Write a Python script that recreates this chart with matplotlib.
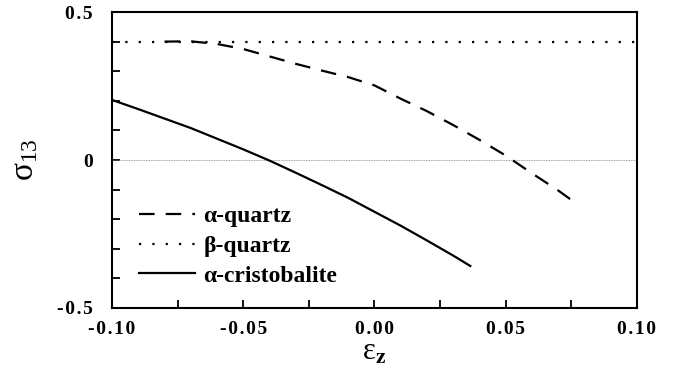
import matplotlib
matplotlib.use("Agg")
import matplotlib.pyplot as plt
from matplotlib.ticker import MultipleLocator, FuncFormatter

# alpha-quartz (dashed)
aq_x = [-0.080, -0.070, -0.060, -0.050, -0.040, -0.030, -0.020, -0.010, 0.000,
        0.010, 0.020, 0.030, 0.040, 0.050, 0.060, 0.070, 0.075]
aq_y = [0.400, 0.401, 0.392, 0.375, 0.350, 0.325, 0.302, 0.280, 0.252,
        0.207, 0.165, 0.118, 0.068, 0.015, -0.045, -0.103, -0.135]

# beta-quartz (dotted, constant)
bq_x = [-0.10, 0.10]
bq_y = [0.40, 0.40]

# alpha-cristobalite (solid)
ac_x = [-0.100, -0.090, -0.080, -0.070, -0.060, -0.050, -0.040, -0.030, -0.020,
        -0.010, 0.000, 0.010, 0.020, 0.030, 0.0365]
ac_y = [0.203, 0.172, 0.140, 0.108, 0.072, 0.036, -0.002, -0.043, -0.085,
        -0.128, -0.175, -0.222, -0.272, -0.323, -0.358]

labels = ["α-quartz", "β-quartz", "α-cristobalite"]

plt.rcParams["font.family"] = ["Liberation Serif", "DejaVu Serif"]
plt.rcParams["mathtext.fontset"] = "stix"

fig = plt.figure(figsize=(6.78, 3.85), dpi=100)
ax = fig.add_axes([0.1652, 0.2, 0.7743, 0.7688])

ax.axhline(0, color="gray", lw=0.6, ls=(0, (1, 1)))
ax.plot(aq_x, aq_y, color="black", lw=1.6, ls=(0, (7, 5)), label=labels[0])
ax.plot(bq_x, bq_y, color="black", lw=1.6, ls=(0, (1, 5)), label=labels[1])
ax.plot(ac_x, ac_y, color="black", lw=1.6, ls="-", label=labels[2])

ax.set_xlim(-0.10, 0.10)
ax.set_ylim(-0.5, 0.5)

ax.xaxis.set_major_locator(MultipleLocator(0.05))
ax.xaxis.set_minor_locator(MultipleLocator(0.025))
ax.yaxis.set_major_locator(MultipleLocator(0.5))
ax.yaxis.set_minor_locator(MultipleLocator(0.1))


def spaced(s):
    return "\u200a".join(s)


ax.xaxis.set_major_formatter(FuncFormatter(lambda v, p: spaced(f"{v:.2f}".replace("-0.00", "0.00"))))
ax.yaxis.set_major_formatter(FuncFormatter(lambda v, p: spaced("0" if abs(v) < 1e-9 else f"{v:.1f}")))

ax.tick_params(which="both", direction="in", top=False, right=False, width=1.3)
ax.tick_params(which="major", length=6)
ax.tick_params(which="minor", length=6)
ax.tick_params(axis="x", pad=9)
ax.tick_params(axis="y", pad=14)
for lab in ax.get_xticklabels() + ax.get_yticklabels():
    lab.set_fontweight("bold")
    lab.set_fontsize(14)
for s in ax.spines.values():
    s.set_linewidth(1.5)

ax.set_xlabel(r"$\mathregular{\varepsilon_{\bf z}}$", fontsize=22, labelpad=0)
ax.set_ylabel(r"$\mathregular{\sigma_{13}}$", fontsize=24, labelpad=12)

leg = ax.legend(loc="lower left", bbox_to_anchor=(0.01, 0.0), frameon=False,
                handlelength=2.4, handletextpad=0.35, labelspacing=0.35,
                prop={"weight": "bold", "size": 17})

fig.savefig("out.png", dpi=100)
